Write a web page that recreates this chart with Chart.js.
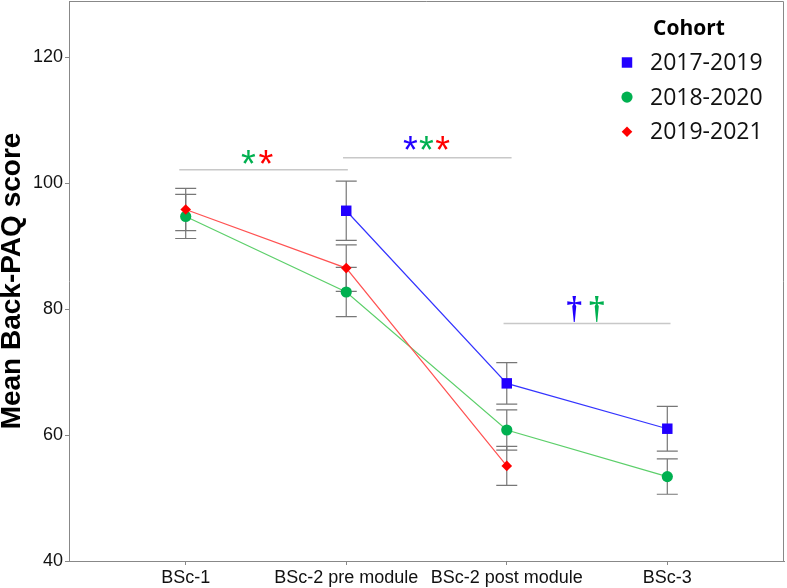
<!DOCTYPE html>
<html>
<head>
<meta charset="utf-8">
<script src="https://cdn.jsdelivr.net/npm/chart.js@4.4.1/dist/chart.umd.min.js"></script>
<style>
  html, body { margin: 0; padding: 0; background: #fff; }
  #wrap { width: 787px; height: 588px; }
</style>
</head>
<body>
<div id="wrap"><canvas id="paqChart" width="787" height="588"></canvas></div>
<script>
// time points and cohorts
const stages  = ['BSc-1', 'BSc-2 pre module', 'BSc-2 post module', 'BSc-3'];
const cohorts = ['2017-2019', '2018-2020', '2019-2021'];

// mean Back-PAQ score and error bar half-width per stage
const mean1719 = [null, 95.6, 68.2, 61.0];
const err1719  = [null, 4.7, 3.3, 3.55];
const mean1820 = [94.7, 82.7, 60.8, 53.4];
const err1820  = [3.5, 3.9, 3.2, 2.8];
const mean1921 = [95.8, 86.5, 55.1, null];
const err1921  = [3.35, 3.7, 3.1, null];

const yTicks = [40, 60, 80, 100, 120];

// significance brackets (stage units) and the marks above them
const sigFrom = [-0.04, 0.98, 1.98];
const sigTo   = [1.01, 2.03, 3.02];
const sigY    = [102.1, 104.0, 77.7];
const markText   = ['*', '*', '*', '*', '*', '\u2020', '\u2020'];
const markCohort = [1, 2, 0, 1, 2, 0, 1];
const markX      = [0.39, 0.50, 1.40, 1.50, 1.60, 2.42, 2.56];
const markY      = [104.2, 104.2, 106.4, 106.4, 106.4, 80.0, 80.0];

const markerCol = ['#2200ff', '#00b050', '#ff0000'];
const lineCol   = ['#3434ff', '#5ccf6a', '#ff5252'];
const styles    = ['rect', 'circle', 'rectRot'];
const radii     = [7.4, 5.6, 5.3];

const means = [mean1719, mean1820, mean1921];
const errs  = [err1719, err1820, err1921];

const toPts = arr => arr.map((v, i) => ({ x: i, y: v }));

function markerPath(ctx, style, x, y, r) {
  ctx.beginPath();
  if (style === 'rect') {
    const s = r * Math.SQRT1_2;
    ctx.rect(x - s, y - s, 2 * s, 2 * s);
  } else if (style === 'circle') {
    ctx.arc(x, y, r, 0, Math.PI * 2);
  } else {
    ctx.moveTo(x, y - r); ctx.lineTo(x + r, y); ctx.lineTo(x, y + r); ctx.lineTo(x - r, y);
    ctx.closePath();
  }
}

const errorBars = {
  id: 'errorBars',
  beforeDatasetsDraw(chart) {
    const { ctx, scales: { x, y } } = chart;
    ctx.save();
    ctx.strokeStyle = '#777';
    ctx.lineWidth = 1.2;
    errs.forEach((e, d) => {
      e.forEach((h, i) => {
        if (h == null || means[d][i] == null) return;
        const px = x.getPixelForValue(i);
        const top = y.getPixelForValue(means[d][i] + h);
        const bot = y.getPixelForValue(means[d][i] - h);
        ctx.beginPath();
        ctx.moveTo(px, top); ctx.lineTo(px, bot);
        ctx.moveTo(px - 10.5, top); ctx.lineTo(px + 10.5, top);
        ctx.moveTo(px - 10.5, bot); ctx.lineTo(px + 10.5, bot);
        ctx.stroke();
      });
    });
    ctx.restore();
  }
};

const sigMarks = {
  id: 'sigMarks',
  afterDatasetsDraw(chart) {
    const { ctx, scales: { x, y } } = chart;
    ctx.save();
    ctx.strokeStyle = '#c8c8c8';
    ctx.lineWidth = 1.5;
    sigFrom.forEach((f, i) => {
      const py = y.getPixelForValue(sigY[i]);
      ctx.beginPath();
      ctx.moveTo(x.getPixelForValue(f), py);
      ctx.lineTo(x.getPixelForValue(sigTo[i]), py);
      ctx.stroke();
    });
    ctx.textAlign = 'center';
    ctx.textBaseline = 'alphabetic';
    markText.forEach((t, i) => {
      ctx.font = t === '*' ? '38px "Liberation Sans"' : 'bold 31px "Liberation Serif"';
      ctx.fillStyle = markerCol[markCohort[i]];
      const m = ctx.measureText(t);
      const px = x.getPixelForValue(markX[i]);
      const py = y.getPixelForValue(markY[i]) + (m.actualBoundingBoxAscent - m.actualBoundingBoxDescent) / 2;
      ctx.fillText(t, px, py);
    });
    ctx.restore();
  }
};

const frameAndLegend = {
  id: 'frameAndLegend',
  afterDraw(chart) {
    const { ctx, chartArea: a } = chart;
    ctx.save();
    ctx.strokeStyle = '#888';
    ctx.lineWidth = 1;
    ctx.beginPath();
    ctx.moveTo(a.left, a.top + 0.5); ctx.lineTo(a.right - 0.5, a.top + 0.5); ctx.lineTo(a.right - 0.5, a.bottom);
    ctx.stroke();

    ctx.fillStyle = '#000';
    ctx.textAlign = 'center';
    ctx.textBaseline = 'middle';
    ctx.font = 'bold 21px "Open Sans"';
    ctx.fillText('Cohort', a.right - 95, a.top + 28);
    ctx.textAlign = 'left';
    ctx.font = '23px "Open Sans"';
    cohorts.forEach((c, i) => {
      const yy = a.top + 61.5 + i * 34.6;
      ctx.fillStyle = markerCol[i];
      markerPath(ctx, styles[i], a.right - 157, yy, radii[i]);
      ctx.fill();
      ctx.fillStyle = '#111';
      ctx.fillText(c, a.right - 134, yy + 1);
    });
    ctx.restore();
  }
};

new Chart(document.getElementById('paqChart'), {
  type: 'line',
  data: {
    datasets: cohorts.map((c, d) => ({
      label: c,
      data: toPts(means[d]),
      borderColor: lineCol[d],
      borderWidth: 1.2,
      backgroundColor: markerCol[d],
      pointBackgroundColor: markerCol[d],
      pointBorderColor: markerCol[d],
      pointBorderWidth: 0,
      pointStyle: styles[d],
      pointRadius: radii[d],
      tension: 0,
      order: 2 - d
    }))
  },
  options: {
    responsive: false,
    animation: false,
    layout: { autoPadding: false, padding: { top: 1, right: 3, left: 0, bottom: 0 } },
    plugins: { legend: { display: false }, tooltip: { enabled: false } },
    scales: {
      x: {
        type: 'linear',
        min: -0.727, max: 3.727,
        afterBuildTicks: s => { s.ticks = stages.map((_, i) => ({ value: i })); },
        afterFit: s => { s.height = 27; s.paddingLeft = 0; s.paddingRight = 0; },
        grid: { drawOnChartArea: false, drawTicks: true, tickLength: 4, color: '#888' },
        border: { display: true, color: '#888', width: 1 },
        ticks: {
          autoSkip: false, maxRotation: 0, padding: 2,
          color: '#111',
          font: { family: 'Liberation Sans', size: 18 },
          callback: v => stages[v]
        }
      },
      y: {
        min: 40, max: 128.9,
        afterBuildTicks: s => { s.ticks = yTicks.map(v => ({ value: v })); },
        afterFit: s => { s.width = 69; s.paddingTop = 0; s.paddingBottom = 0; },
        grid: { drawOnChartArea: false, drawTicks: true, tickLength: 4, color: '#888' },
        border: { display: true, color: '#888', width: 1 },
        ticks: {
          padding: 2,
          color: '#111',
          font: { family: 'Liberation Sans', size: 18 }
        },
        title: {
          display: true,
          text: 'Mean Back-PAQ score',
          color: '#000',
          padding: 0,
          font: { family: 'Liberation Sans', size: 28, weight: 'bold', lineHeight: 0.9 }
        }
      }
    }
  },
  plugins: [errorBars, sigMarks, frameAndLegend]
});
</script>
</body>
</html>
